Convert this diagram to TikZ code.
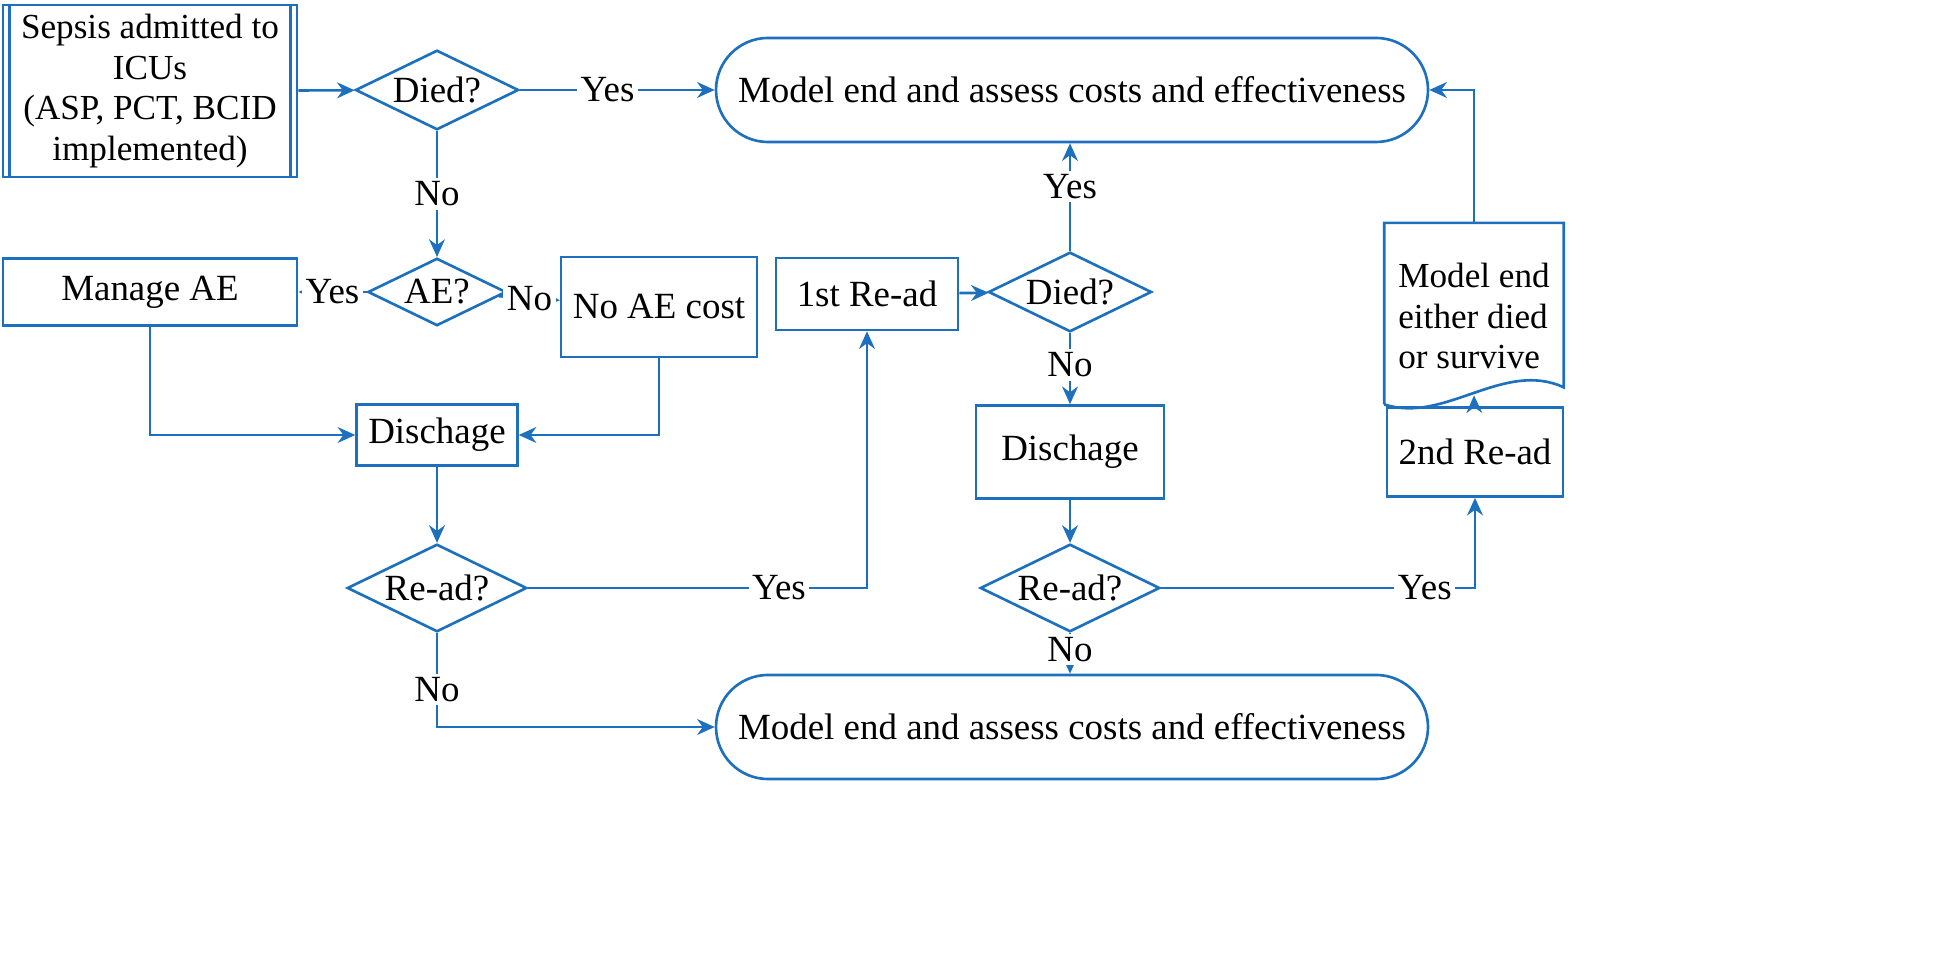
\documentclass[tikz,border=0pt]{standalone}
\usepackage{fontspec}
\setmainfont{Liberation Serif}
\usetikzlibrary{shapes.geometric,shapes.misc,arrows.meta,calc}
\definecolor{flowblue}{RGB}{28,112,190}
\tikzset{
  every node/.style={font=\fontsize{10.5}{12.5}\selectfont},
  small/.style={font=\fontsize{10}{11.5}\selectfont},
  line/.style={draw=flowblue,line width=0.75pt},
  arr/.style={line,-{Stealth[length=5pt,width=4.5pt]}},
  box/.style={draw=flowblue,line width=0.75pt,rectangle,align=center},
  decide/.style={draw=flowblue,line width=0.75pt,diamond,aspect=2.05,inner sep=1pt,minimum width=1.32cm,minimum height=0.65cm},
  term/.style={draw=flowblue,line width=0.75pt,rounded rectangle,minimum width=7.35cm,minimum height=1.04cm},
  lbl/.style={fill=white,inner sep=1pt}
}
\begin{document}
\begin{tikzpicture}[x=0.01cm,y=-0.01cm]
\useasboundingbox (0,0) rectangle (1934,962);
% nodes
\node[box,small,inner sep=2pt,minimum width=2.94cm,minimum height=1.72cm] (start) at (150,91) {Sepsis admitted to\\ICUs\\(ASP, PCT, BCID\\implemented)};
\draw[line] ($(start.north west)+(8,0)$) -- ($(start.south west)+(8,0)$);
\draw[line] ($(start.north east)+(-8,0)$) -- ($(start.south east)+(-8,0)$);
\node[decide] (died1) at (437,90) {Died?};
\node[term] (endtop) at (1072,90) {Model end and assess costs and effectiveness};
\node[decide] (ae) at (437,292) {AE?};
\node[box,minimum width=2.94cm,minimum height=0.67cm] (manage) at (150,292) {Manage AE};
\node[box,minimum width=1.82cm,minimum height=1cm] (noae) at (659,307) {No AE cost};
\node[box,minimum width=1.59cm,minimum height=0.61cm] (dis1) at (437,435) {Dischage};
\node[decide] (read1) at (437,588) {Re-ad?};
\node[box,minimum width=1.82cm,minimum height=0.72cm] (first) at (867,294) {1st Re-ad};
\node[decide] (died2) at (1070,292) {Died?};
\node[box,minimum width=1.88cm,minimum height=0.93cm] (dis2) at (1070,452) {Dischage};
\node[decide] (read2) at (1070,588) {Re-ad?};
\node[term] (endbot) at (1072,727) {Model end and assess costs and effectiveness};
\node[box,minimum width=1.70cm,minimum height=0.89cm] (second) at (1475,452) {2nd Re-ad};
\node[small,align=left,minimum width=1.78cm,minimum height=1.85cm,yshift=-8] (doc) at (1474,288) {Model end\\either died\\or survive};
\draw[line] ($(doc.south west)+(0,-5)$) -- (doc.north west) -- (doc.north east) -- ($(doc.south east)+(0,-22)$)
  .. controls ($(doc.south east)+(-60,-50)$) and ($(doc.south west)+(60,15)$) .. ($(doc.south west)+(0,-5)$);
\coordinate (docb) at ($(doc.south)+(0,-14)$);
% connectors
\draw[arr] (start) -- (died1);
\draw[arr] (died1) -- node[lbl,pos=0.45]{Yes} (endtop);
\draw[arr] (died1) -- node[lbl,pos=0.5]{No} (ae);
\draw[arr] (ae) -- node[lbl]{Yes} (manage);
\draw[arr] (ae) -- node[lbl]{No} (noae);
\draw[arr] (manage.south) |- (dis1.west);
\draw[arr] (noae.south) |- (dis1.east);
\draw[arr] (dis1) -- (read1);
\draw[arr] (read1.east) -| node[lbl,pos=0.37]{Yes} (first.south);
\draw[arr] (read1.south) |- node[lbl,pos=0.3]{No} (endbot.west);
\draw[arr] (first) -- (died2);
\draw[arr] (died2) -- node[lbl,pos=0.6]{Yes} (died2 |- endtop.south);
\draw[arr] (died2) -- node[lbl,pos=0.45]{No} (dis2);
\draw[arr] (dis2) -- (read2);
\draw[arr] (read2) -- node[lbl,pos=0.4]{No} (read2 |- endbot.north);
\draw[arr] (read2.east) -| node[lbl,pos=0.42]{Yes} (second.south);
\draw[arr] (second) -- (docb);
\draw[arr] (doc.north) |- (endtop.east);
\end{tikzpicture}
\end{document}
